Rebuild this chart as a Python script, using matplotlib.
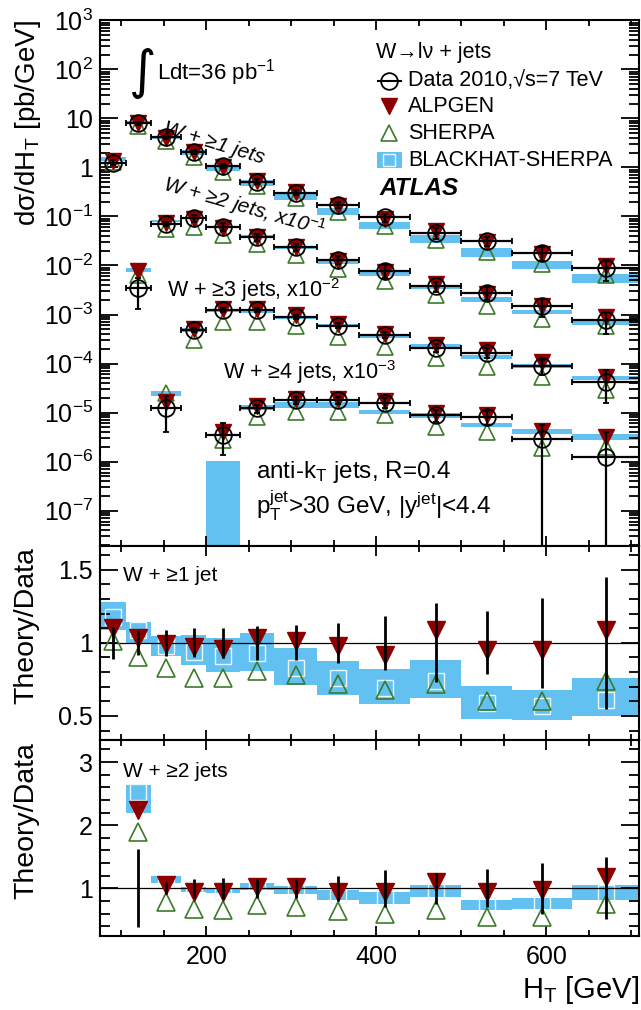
import numpy as np
import matplotlib
matplotlib.use('Agg')
import matplotlib.pyplot as plt
from matplotlib.patches import Rectangle
from matplotlib.ticker import MultipleLocator, LogLocator, FuncFormatter, NullFormatter, FixedLocator

plt.rcParams['font.family'] = ['Liberation Sans', 'DejaVu Sans']
plt.rcParams['mathtext.fontset'] = 'custom'
plt.rcParams['mathtext.rm'] = 'Liberation Sans'
plt.rcParams['mathtext.it'] = 'Liberation Sans:italic'
plt.rcParams['mathtext.bf'] = 'Liberation Sans:bold'

# H_T bin edges [GeV]
bin_edges = [75, 105, 135, 170, 200, 240, 280, 330, 380, 440, 500, 560, 630, 710]

# W + >=1 jets (starts at first bin)
w1_first = 0
w1_data = [1.25, 7.9, 4.1, 2.1, 1.08, 0.51, 0.305, 0.17, 0.096, 0.0467, 0.0316, 0.0182, 0.00875]
w1_rel_err = [0.11, 0.08, 0.09, 0.10, 0.105, 0.115, 0.12, 0.135, 0.185, 0.27, 0.215, 0.31, 0.45]
w1_alpgen = [1.375, 8.14, 4.06, 2.04, 1.03, 0.525, 0.308, 0.167, 0.0883, 0.0509, 0.0300, 0.0173, 0.00954]
w1_sherpa = [1.26, 7.11, 3.40, 1.60, 0.82, 0.413, 0.238, 0.122, 0.0653, 0.0336, 0.0190, 0.0109, 0.00648]
w1_bh_lo = [1.36, 7.90, 3.73, 1.785, 0.864, 0.413, 0.217, 0.109, 0.0557, 0.0290, 0.0152, 0.00855, 0.00438]
w1_bh_hi = [1.60, 9.01, 4.28, 2.22, 1.12, 0.546, 0.294, 0.149, 0.0787, 0.0411, 0.0223, 0.0124, 0.00665]

# W + >=2 jets, x10^-1 (starts at second bin)
w2_first = 1
w2_data = [0.0034, 0.070, 0.0916, 0.0618, 0.0376, 0.0235, 0.0132, 0.0079, 0.0038, 0.0028, 0.0015, 0.00077]
w2_rel_err = [0.62, 0.095, 0.145, 0.165, 0.15, 0.155, 0.20, 0.29, 0.24, 0.30, 0.40, 0.49]
w2_alpgen = [0.00762, 0.0735, 0.0879, 0.0587, 0.0387, 0.0240, 0.01254, 0.0075, 0.00418, 0.00266, 0.00147, 0.000909]
w2_sherpa = [0.00646, 0.0553, 0.0623, 0.0411, 0.0276, 0.0167, 0.00851, 0.00474, 0.00253, 0.00151, 0.000825, 0.000585]
w2_bh_lo = [0.00745, 0.0756, 0.0870, 0.0569, 0.0368, 0.0214, 0.01076, 0.0060, 0.00331, 0.00183, 0.00102, 0.000624]
w2_bh_hi = [0.00898, 0.0837, 0.0939, 0.0612, 0.0410, 0.0244, 0.0128, 0.00747, 0.00399, 0.00228, 0.00126, 0.000809]

# W + >=3 jets, x10^-2
w3_first = 2
w3_data = [1.22e-5, 4.8e-4, 1.24e-3, 1.24e-3, 9.0e-4, 5.9e-4, 3.8e-4, 2.05e-4, 1.67e-4, 8.9e-5, 4.3e-5]
w3_lo = [4.1e-6, 4.3e-4, 1.12e-3, 1.12e-3, 8.1e-4, 5.2e-4, 3.3e-4, 1.7e-4, 1.3e-4, 5.8e-5, 1.6e-5]
w3_hi = [2.2e-5, 5.4e-4, 1.37e-3, 1.37e-3, 1.0e-3, 6.7e-4, 4.4e-4, 2.45e-4, 2.1e-4, 1.2e-4, 7.4e-5]
w3_alpgen = [1.67e-5, 5.0e-4, 1.28e-3, 1.28e-3, 9.8e-4, 6.3e-4, 4.1e-4, 2.4e-4, 1.85e-4, 1.09e-4, 5.4e-5]
w3_sherpa = [2.5e-5, 3.0e-4, 7.2e-4, 7.2e-4, 5.7e-4, 3.5e-4, 2.2e-4, 1.28e-4, 8.7e-5, 5.4e-5, 2.9e-5]
w3_bh_lo = [2.2e-5, 4.4e-4, 1.1e-3, 1.05e-3, 8.0e-4, 5.8e-4, 3.3e-4, 2.0e-4, 1.25e-4, 8.0e-5, 4.6e-5]
w3_bh_hi = [2.7e-5, 5.2e-4, 1.3e-3, 1.25e-3, 9.5e-4, 6.4e-4, 4.0e-4, 2.5e-4, 1.5e-4, 9.6e-5, 5.6e-5]

# W + >=4 jets, x10^-3
w4_first = 4
w4_data = [3.5e-6, 1.22e-5, 1.8e-5, 1.8e-5, 1.6e-5, 8.9e-6, 8.3e-6, 2.9e-6, 1.26e-6]
w4_lo = [1.36e-6, 1.0e-5, 1.5e-5, 1.5e-5, 1.25e-5, 6.5e-6, 5.5e-6, 1e-9, 1e-9]
w4_hi = [6.0e-6, 1.45e-5, 2.1e-5, 2.1e-5, 2.0e-5, 1.15e-5, 1.1e-5, 5.5e-6, 4.0e-6]
w4_alpgen = [4.1e-6, 1.36e-5, 1.9e-5, 1.9e-5, 1.7e-5, 9.6e-6, 8.9e-6, 4.3e-6, 3.2e-6]
w4_sherpa = [2.8e-6, 8.3e-6, 1.05e-5, 1.05e-5, 8.9e-6, 5.2e-6, 4.1e-6, 1.9e-6, 2.0e-6]
w4_bh_lo = [1e-9, 1.15e-5, 1.25e-5, 1.25e-5, 9.5e-6, 7.8e-6, 5.0e-6, 3.6e-6, 2.8e-6]
w4_bh_hi = [1.05e-6, 1.45e-5, 1.65e-5, 1.65e-5, 1.15e-5, 1.0e-5, 6.2e-6, 4.6e-6, 3.6e-6]

# Theory/Data, W + >=1 jet
r1_alpgen = [1.10, 1.03, 0.99, 0.97, 0.955, 1.03, 1.01, 0.98, 0.92, 1.09, 0.95, 0.95, 1.09]
r1_sherpa = [1.01, 0.90, 0.83, 0.76, 0.76, 0.81, 0.78, 0.72, 0.68, 0.72, 0.60, 0.60, 0.74]
r1_bh = [1.18, 1.09, 0.98, 0.94, 0.91, 0.93, 0.83, 0.76, 0.69, 0.74, 0.59, 0.57, 0.61]
r1_bh_lo = [1.09, 1.00, 0.91, 0.85, 0.80, 0.81, 0.71, 0.64, 0.58, 0.62, 0.48, 0.47, 0.50]
r1_bh_hi = [1.28, 1.14, 1.045, 1.055, 1.035, 1.07, 0.965, 0.875, 0.82, 0.88, 0.705, 0.68, 0.76]

# Theory/Data, W + >=2 jets
r2_alpgen = [2.24, 1.05, 0.95, 0.95, 1.025, 1.025, 0.95, 0.95, 1.10, 0.95, 0.975, 1.18]
r2_sherpa = [1.90, 0.79, 0.68, 0.665, 0.735, 0.71, 0.645, 0.60, 0.665, 0.54, 0.55, 0.76]
r2_bh = [2.53, 1.14, 0.985, 0.955, 1.035, 0.975, 0.89, 0.85, 0.96, 0.735, 0.76, 0.93]
r2_bh_lo = [2.19, 1.08, 0.95, 0.92, 0.98, 0.91, 0.815, 0.76, 0.87, 0.655, 0.68, 0.81]
r2_bh_hi = [2.64, 1.195, 1.025, 0.99, 1.09, 1.04, 0.97, 0.945, 1.05, 0.815, 0.84, 1.05]

BLUE = '#62c1f1'
RED = '#8c0000'
GREEN = '#3d7a2a'


def bins_for(first, n):
    e = np.array(bin_edges[first:first + n + 1], dtype=float)
    return e[:-1], e[1:], 0.5 * (e[:-1] + e[1:])


def draw_main(ax, first, data, lo, hi, alp, sh, bh_lo, bh_hi):
    data = np.array(data)
    xl, xr, xc = bins_for(first, len(data))
    ax.bar(xl, np.array(bh_hi) - np.array(bh_lo), width=xr - xl, bottom=bh_lo,
           align='edge', color=BLUE, lw=0, zorder=1)
    ax.plot(xc, sh, ls='none', marker='^', ms=12, mfc='none', mec=GREEN, mew=1.2, zorder=2)
    ax.plot(xc, alp, ls='none', marker='v', ms=12, color=RED, zorder=3)
    ax.errorbar(xc, data, xerr=[xc - xl, xr - xc], yerr=[data - np.array(lo), np.array(hi) - data],
                fmt='o', ms=12, mfc='none', mec='k', mew=1.3, ecolor='k', elinewidth=1.6,
                capsize=2.5, capthick=1.6, zorder=4)


def draw_ratio(ax, first, alp, sh, bh, bh_lo, bh_hi, err):
    xl, xr, xc = bins_for(first, len(alp))
    ax.bar(xl, np.array(bh_hi) - np.array(bh_lo), width=xr - xl, bottom=bh_lo,
           align='edge', color=BLUE, lw=0, zorder=1)
    ax.plot(xc, bh, ls='none', marker='s', ms=12, mfc='none', mec='#e8f6fd', mew=1.0, zorder=2)
    ax.axhline(1, color='k', lw=0.9, zorder=2)
    ax.plot(xc, sh, ls='none', marker='^', ms=13, mfc='none', mec=GREEN, mew=1.2, zorder=3)
    ax.plot(xc, alp, ls='none', marker='v', ms=13, color=RED, zorder=4)
    ax.errorbar(xc, np.ones(len(xc)), yerr=err, fmt='none', ecolor='k', elinewidth=2.0, zorder=5)


fig = plt.figure(figsize=(6.41, 10.10), dpi=100)
L, W = 100 / 641, 539 / 641
ax = fig.add_axes([L, 1 - 545.7 / 1010, W, 525.4 / 1010])
ax1 = fig.add_axes([L, 1 - 740 / 1010, W, 194.3 / 1010], sharex=ax)
ax2 = fig.add_axes([L, 1 - 935.7 / 1010, W, 195.7 / 1010], sharex=ax)

ax.set_yscale('log')
d1 = np.array(w1_data); e1 = np.array(w1_rel_err)
d2 = np.array(w2_data); e2 = np.array(w2_rel_err)
draw_main(ax, w1_first, w1_data, d1 * (1 - e1), d1 * (1 + e1), w1_alpgen, w1_sherpa, w1_bh_lo, w1_bh_hi)
draw_main(ax, w2_first, w2_data, d2 * (1 - e2), d2 * (1 + e2), w2_alpgen, w2_sherpa, w2_bh_lo, w2_bh_hi)
draw_main(ax, w3_first, w3_data, w3_lo, w3_hi, w3_alpgen, w3_sherpa, w3_bh_lo, w3_bh_hi)
draw_main(ax, w4_first, w4_data, w4_lo, w4_hi, w4_alpgen, w4_sherpa, w4_bh_lo, w4_bh_hi)

draw_ratio(ax1, w1_first, r1_alpgen, r1_sherpa, r1_bh, r1_bh_lo, r1_bh_hi, w1_rel_err)
draw_ratio(ax2, w2_first, r2_alpgen, r2_sherpa, r2_bh, r2_bh_lo, r2_bh_hi, w2_rel_err)

ax.set_xlim(75, 709)
ax.set_ylim(1.93e-8, 1e3)
ax1.set_ylim(0.335, 1.665)
ax2.set_ylim(0.25, 3.35)


def log_fmt(v, pos):
    e = int(round(np.log10(v)))
    if e == 0:
        return '1'
    if e == 1:
        return '10'
    return r'10$^{%d}$' % e


ax.yaxis.set_major_locator(LogLocator(base=10, numticks=30))
ax.yaxis.set_minor_locator(LogLocator(base=10, subs=np.arange(2, 10), numticks=30))
ax.yaxis.set_major_formatter(FuncFormatter(log_fmt))
ax.yaxis.set_minor_formatter(NullFormatter())

ax1.yaxis.set_major_locator(FixedLocator([0.5, 1.0, 1.5]))
ax1.yaxis.set_minor_locator(MultipleLocator(0.1))
ax1.yaxis.set_major_formatter(FuncFormatter(lambda v, p: '%g' % v))
ax2.yaxis.set_major_locator(FixedLocator([1, 2, 3]))
ax2.yaxis.set_minor_locator(MultipleLocator(0.2))

for a in (ax, ax1, ax2):
    a.xaxis.set_major_locator(MultipleLocator(200))
    a.xaxis.set_minor_locator(MultipleLocator(50))
    a.tick_params(which='both', direction='in', top=True, right=True, labelsize=18, width=1.3)
    a.tick_params(axis='x', which='major', length=7)
    a.tick_params(axis='x', which='minor', length=4)
    a.tick_params(axis='y', which='major', length=13, pad=5)
    a.tick_params(axis='y', which='minor', length=7)
    for s in a.spines.values():
        s.set_linewidth(1.5)
ax.tick_params(labelbottom=False)
ax1.tick_params(labelbottom=False)
ax2.tick_params(axis='x', pad=7)

ax.set_ylabel('dσ/d$\\mathrm{H}_\\mathrm{T}$ [pb/GeV]', fontsize=20, loc='top')
ax.yaxis.set_label_coords(-0.106, 1.0)
ax1.set_ylabel('Theory/Data', fontsize=20.5, loc='top')
ax1.yaxis.set_label_coords(-0.112, 0.995)
ax2.set_ylabel('Theory/Data', fontsize=20.5, loc='top')
ax2.yaxis.set_label_coords(-0.112, 0.99)
ax2.set_xlabel(r'$\mathrm{H}_\mathrm{T}$ [GeV]', fontsize=21, loc='right')
ax2.xaxis.set_label_coords(1.0, -0.195)

# annotations
ax.text(0.080, 0.900, '∫', family='DejaVu Sans', fontsize=38, ha='center', va='center',
        transform=ax.transAxes)
ax.text(0.106, 0.900, 'Ldt=36 pb$^{-1}$', fontsize=16, ha='left', va='center', transform=ax.transAxes)
ax.text(0.211, 0.766, 'W + ≥1 jets', fontsize=15, style='italic', rotation=-17,
        rotation_mode='anchor', ha='center', va='center', transform=ax.transAxes)
ax.text(0.267, 0.646, 'W + ≥2 jets, x10$^{-1}$', fontsize=15, style='italic', rotation=-16,
        rotation_mode='anchor', ha='center', va='center', transform=ax.transAxes)
ax.text(0.124, 0.487, 'W + ≥3 jets, x10$^{-2}$', fontsize=15.5, ha='left', va='center',
        transform=ax.transAxes)
ax.text(0.228, 0.331, 'W + ≥4 jets, x10$^{-3}$', fontsize=15.5, ha='left', va='center',
        transform=ax.transAxes)
ax.text(0.289, 0.141, 'anti-k$_\\mathrm{T}$ jets, R=0.4', fontsize=17.5, ha='left', va='center',
        transform=ax.transAxes)
ax.text(0.289, 0.077, '$\\mathrm{p}_\\mathrm{T}^\\mathrm{jet}$>30 GeV, |$\\mathrm{y}^\\mathrm{jet}$|<4.4',
        fontsize=17.5, ha='left', va='center', transform=ax.transAxes)
ax.text(0.519, 0.680, 'ATLAS', fontsize=17.5, weight='bold', style='italic', ha='left', va='center',
        transform=ax.transAxes)

# legend
lx, tx = 0.537, 0.571
ax.text(0.512, 0.938, 'W→lν + jets', fontsize=15.5, ha='left', va='center', transform=ax.transAxes)
ax.plot([lx - 0.022, lx + 0.022], [0.885, 0.885], color='k', lw=1.5, transform=ax.transAxes, clip_on=False)
ax.plot([lx], [0.885], marker='o', ms=12, mfc='none', mec='k', mew=1.3, transform=ax.transAxes)
ax.text(tx, 0.885, 'Data 2010,√s=7 TeV', fontsize=15.5, ha='left', va='center', transform=ax.transAxes)
ax.plot([lx], [0.836], marker='v', ms=12, color=RED, transform=ax.transAxes)
ax.text(tx, 0.836, 'ALPGEN', fontsize=15.5, ha='left', va='center', transform=ax.transAxes)
ax.plot([lx], [0.785], marker='^', ms=12, mfc='none', mec=GREEN, mew=1.2, transform=ax.transAxes)
ax.text(tx, 0.785, 'SHERPA', fontsize=15.5, ha='left', va='center', transform=ax.transAxes)
ax.add_patch(Rectangle((lx - 0.0225, 0.734 - 0.0145), 0.045, 0.029, color=BLUE, lw=0,
                       transform=ax.transAxes))
ax.plot([lx], [0.734], marker='s', ms=8, mfc='none', mec='#e8f6fd', mew=1.0, transform=ax.transAxes)
ax.text(tx, 0.734, 'BLACKHAT-SHERPA', fontsize=15.5, ha='left', va='center', transform=ax.transAxes)

ax1.text(0.042, 0.849, 'W + ≥1 jet', fontsize=15, ha='left', va='center', transform=ax1.transAxes)
ax2.text(0.042, 0.838, 'W + ≥2 jets', fontsize=15, ha='left', va='center', transform=ax2.transAxes)

fig.savefig('out.png', dpi=100)
